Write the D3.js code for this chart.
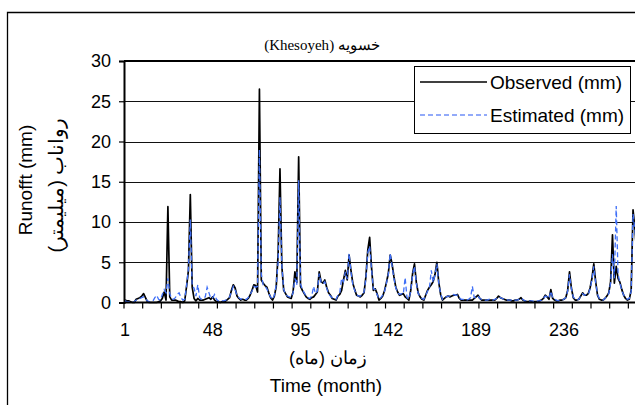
<!DOCTYPE html>
<html>
<head>
<meta charset="utf-8">
<script src="https://cdn.jsdelivr.net/npm/d3@7"></script>
<style>
  html, body { margin: 0; padding: 0; background: #fff; }
  svg { display: block; }
  text { font-family: "Liberation Sans", Arial, sans-serif; fill: #000; }
</style>
</head>
<body>
<svg id="chart" width="635" height="405"></svg>
<script>
// Monthly runoff at Khesoyeh: observed vs. model estimate (mm)
const observed = [
  0.3,0.2,0.2,0.1,0.0,0.0,0.4,0.5,0.6,0.8,
  1.1,0.6,0.1,0.0,0.0,0.0,0.0,0.0,0.1,0.2,
  0.5,1.3,0.3,11.9,0.7,0.3,0.3,0.3,0.2,0.1,
  0.1,0.0,0.2,2.0,4.0,13.4,1.9,0.5,0.2,0.5,
  0.3,0.3,0.3,0.4,0.5,0.6,0.4,0.7,0.3,0.1,
  0.1,0.0,0.1,0.1,0.2,0.4,0.6,1.5,2.2,1.8,
  0.8,0.5,0.3,0.4,0.3,0.3,0.5,0.9,1.5,2.2,
  2.1,1.3,26.5,2.8,2.4,2.1,1.9,1.2,0.6,0.3,
  0.8,2.0,6.0,16.6,4.5,1.5,1.1,0.7,0.6,0.5,
  1.3,3.8,2.5,18.1,2.0,1.5,1.1,0.7,0.5,0.4,
  0.6,0.7,1.0,1.3,3.8,2.6,2.4,2.8,1.9,1.2,
  0.9,0.5,0.4,0.3,0.8,1.0,1.5,2.8,4.0,2.8,
  5.9,4.0,2.4,1.6,0.9,0.8,0.7,0.9,1.2,3.2,
  6.5,8.1,4.4,1.5,1.7,1.1,0.3,0.5,0.8,1.5,
  2.5,3.6,5.9,4.8,3.2,1.9,1.3,0.9,1.0,1.1,
  0.7,0.5,0.3,1.5,3.6,4.8,2.5,1.2,0.7,0.4,
  0.3,0.9,1.5,1.9,2.2,2.6,3.5,5.0,2.5,1.0,
  0.3,0.5,0.7,0.8,0.7,0.8,0.9,0.9,1.0,0.5,
  0.3,0.3,0.3,0.3,0.3,0.3,0.3,0.5,0.7,0.9,
  0.5,0.3,0.3,0.3,0.3,0.3,0.3,0.3,0.3,0.5,
  0.8,0.6,0.5,0.4,0.3,0.3,0.3,0.2,0.2,0.3,
  0.3,0.4,0.6,0.3,0.2,0.1,0.1,0.2,0.1,0.1,
  0.1,0.1,0.2,0.3,0.5,0.9,0.7,0.4,1.6,0.5,
  0.3,0.2,0.2,0.3,0.3,0.4,0.6,1.5,3.8,1.8,
  0.6,0.3,0.3,0.4,0.8,1.2,0.9,0.9,1.1,1.8,
  3.0,4.8,2.6,0.9,0.4,0.3,0.3,0.5,0.8,1.2,
  2.6,8.4,2.4,4.5,3.0,2.5,1.6,0.9,0.5,0.3,
  0.4,1.5,11.5,9.2,6.0
];

const estimated = [
  0.2,0.1,0.1,0.1,0.0,0.1,0.3,0.4,0.5,0.6,
  0.7,0.5,0.2,0.1,0.1,0.2,0.6,0.9,0.4,0.3,
  1.0,1.6,1.2,3.0,1.1,0.5,0.4,0.6,1.0,1.2,
  0.6,0.3,0.4,2.1,4.2,10.3,2.0,1.8,0.8,2.2,
  0.6,0.4,0.5,0.7,1.9,1.2,0.5,0.6,1.0,0.4,
  0.2,0.1,0.2,0.2,0.3,0.5,0.7,1.3,2.0,1.6,
  0.9,0.6,0.4,0.5,0.4,0.4,0.6,1.0,1.4,2.0,
  1.9,2.0,19.0,3.5,2.2,2.0,1.7,1.1,0.7,0.4,
  0.9,2.2,5.0,13.1,4.6,1.6,1.0,0.8,0.7,0.6,
  1.2,3.0,2.2,15.2,2.3,1.6,1.2,0.8,0.6,0.5,
  0.8,2.0,1.1,1.4,3.6,2.5,2.3,2.6,1.8,1.1,
  0.8,0.6,0.5,0.4,0.9,1.2,3.0,2.6,3.8,2.9,
  6.1,3.8,2.2,1.5,1.0,0.8,0.8,1.0,1.3,3.0,
  6.2,7.0,4.2,1.7,1.6,1.0,0.4,0.6,0.9,1.4,
  2.4,3.5,6.1,4.6,3.0,1.8,1.2,1.0,1.1,1.0,
  3.1,0.6,0.4,1.4,3.4,4.5,2.4,1.1,0.8,0.5,
  0.4,0.9,1.4,1.8,4.0,2.5,3.4,4.8,2.4,1.1,
  0.4,0.6,0.7,0.8,0.8,0.9,1.0,0.9,0.9,0.6,
  0.4,0.4,0.3,0.3,0.4,0.6,2.0,0.6,0.6,0.8,
  0.5,0.4,0.3,0.3,0.3,0.4,0.3,0.3,0.4,0.5,
  0.7,0.6,0.5,0.4,0.4,0.3,0.3,0.3,0.2,0.3,
  0.3,0.4,0.5,0.4,0.2,0.2,0.1,0.2,0.2,0.1,
  0.1,0.2,0.2,0.3,0.5,0.8,0.7,0.5,1.4,0.6,
  0.4,0.3,0.2,0.3,0.3,0.4,0.6,1.4,3.5,1.7,
  0.7,0.4,0.3,0.4,0.8,1.1,0.9,1.0,1.0,1.7,
  2.8,4.5,2.5,1.0,0.5,0.4,0.3,0.5,0.8,1.1,
  2.4,6.0,3.0,12.0,3.5,2.4,1.5,0.9,0.6,0.4,
  0.5,1.4,11.0,9.0,6.0
];

// Month numbers (category axis)
const months = d3.range(1, observed.length + 1);
const monthLabels = [1, 48, 95, 142, 189, 236];
const yTicks = [0, 5, 10, 15, 20, 25, 30];
const seriesNames = ["Observed (mm)", "Estimated (mm)"];
const titleText = "خسویه (Khesoyeh)";
const xTitleFa = "زمان (ماه)";
const xTitleEn = "Time (month)";
const yTitleEn = "Runofft (mm)";
const yTitleFa = "رواناب (میلیمتر)";

const svg = d3.select("#chart");
const W = 635, H = 405;
const plotLeft = 124, plotTop = 61, plotBottom = 302.5;
const step = 1.868;
const plotRight = plotLeft + months.length * step;
const sans = "Liberation Sans, Arial, sans-serif";

svg.append("rect").attr("width", W).attr("height", H).attr("fill", "#fff");

// outer chart frame
svg.append("path")
  .attr("d", `M7.5,${H} V12.5 H${W}`)
  .attr("fill", "none").attr("stroke", "#000").attr("stroke-width", 1.3);

const x = d3.scaleBand().domain(months).range([plotLeft, plotRight]).padding(0);
const xc = m => x(m) + x.bandwidth() / 2;
const y = d3.scaleLinear().domain([0, 30]).range([plotBottom, plotTop]);

// horizontal gridlines
svg.append("g").selectAll("line")
  .data(yTicks.filter(v => v > 0 && v < 30))
  .join("line")
  .attr("x1", plotLeft).attr("x2", W)
  .attr("y1", d => Math.round(y(d)) + 0.5).attr("y2", d => Math.round(y(d)) + 0.5)
  .attr("stroke", "#111").attr("stroke-width", 1);

// top border of plot area
svg.append("line")
  .attr("x1", plotLeft).attr("x2", W)
  .attr("y1", y(30)).attr("y2", y(30))
  .attr("stroke", "#000").attr("stroke-width", 2);

// y axis
const yAxis = d3.axisLeft(y).tickValues(yTicks).tickSize(5).tickPadding(8).tickFormat(d3.format("d"));
const gy = svg.append("g").attr("transform", `translate(${plotLeft},0)`).call(yAxis);
gy.select(".domain").attr("stroke", "#000").attr("stroke-width", 2);
gy.selectAll(".tick line").attr("stroke", "#000").attr("stroke-width", 1.2);
gy.selectAll(".tick text").attr("font-size", 18).attr("font-family", sans).attr("fill", "#000");

// series lines
const line = d3.line().x((d, i) => xc(months[i])).y(d => y(d));
svg.append("path").datum(observed)
  .attr("d", line).attr("fill", "none")
  .attr("stroke", "#000").attr("stroke-width", 1.7).attr("stroke-linejoin", "round");
svg.append("path").datum(estimated)
  .attr("d", line).attr("fill", "none")
  .attr("stroke", "#3f6ff7").attr("stroke-width", 1.3)
  .attr("stroke-dasharray", "5,3");

// x axis: baseline, tick marks every 10 months, labels every 47 months
svg.append("line")
  .attr("x1", plotLeft).attr("x2", W)
  .attr("y1", plotBottom).attr("y2", plotBottom)
  .attr("stroke", "#000").attr("stroke-width", 2);
const tickMonths = months.filter(m => (m - 1) % 10 === 0);
svg.append("g").selectAll("line")
  .data(tickMonths)
  .join("line")
  .attr("x1", d => x(d)).attr("x2", d => x(d))
  .attr("y1", plotBottom).attr("y2", plotBottom + 6)
  .attr("stroke", "#000").attr("stroke-width", 1.2);
const xAxis = d3.axisBottom(x).tickValues(monthLabels).tickSize(0).tickPadding(21);
const gx = svg.append("g").attr("transform", `translate(0,${plotBottom})`).call(xAxis);
gx.select(".domain").remove();
gx.selectAll(".tick text").attr("font-size", 18).attr("font-family", sans).attr("fill", "#000");

// titles
svg.append("text")
  .attr("x", 322).attr("y", 50)
  .attr("text-anchor", "middle").attr("direction", "rtl")
  .style("font-family", "'Liberation Serif', 'DejaVu Serif', serif")
  .attr("font-size", 15)
  .text(titleText);

svg.append("text")
  .attr("x", 328).attr("y", 364)
  .attr("text-anchor", "middle").attr("direction", "rtl")
  .attr("font-size", 18)
  .text(xTitleFa);

svg.append("text")
  .attr("x", 326).attr("y", 392)
  .attr("text-anchor", "middle")
  .attr("font-size", 19)
  .text(xTitleEn);

svg.append("text")
  .attr("transform", "translate(32,180) rotate(-90)")
  .attr("text-anchor", "middle")
  .attr("font-size", 19)
  .text(yTitleEn);

svg.append("text")
  .attr("transform", "translate(63,185) rotate(-90)")
  .attr("text-anchor", "middle").attr("direction", "rtl")
  .attr("font-size", 20)
  .text(yTitleFa);

// legend
const lg = svg.append("g");
lg.append("rect")
  .attr("x", 414.5).attr("y", 66.5).attr("width", 216).attr("height", 67)
  .attr("fill", "#fff").attr("stroke", "#000").attr("stroke-width", 1);
const legendStyles = [
  { stroke: "#000", width: 1.7, dash: null },
  { stroke: "#6f8ff8", width: 1.3, dash: "5,3" }
];
seriesNames.forEach((name, i) => {
  const ly = 82 + i * 33;
  lg.append("line")
    .attr("x1", 420).attr("x2", 487).attr("y1", ly).attr("y2", ly)
    .attr("stroke", legendStyles[i].stroke).attr("stroke-width", legendStyles[i].width)
    .attr("stroke-dasharray", legendStyles[i].dash);
  lg.append("text")
    .attr("x", 490).attr("y", ly).attr("dy", "0.35em")
    .attr("font-size", 19)
    .text(name);
});
</script>
</body>
</html>
